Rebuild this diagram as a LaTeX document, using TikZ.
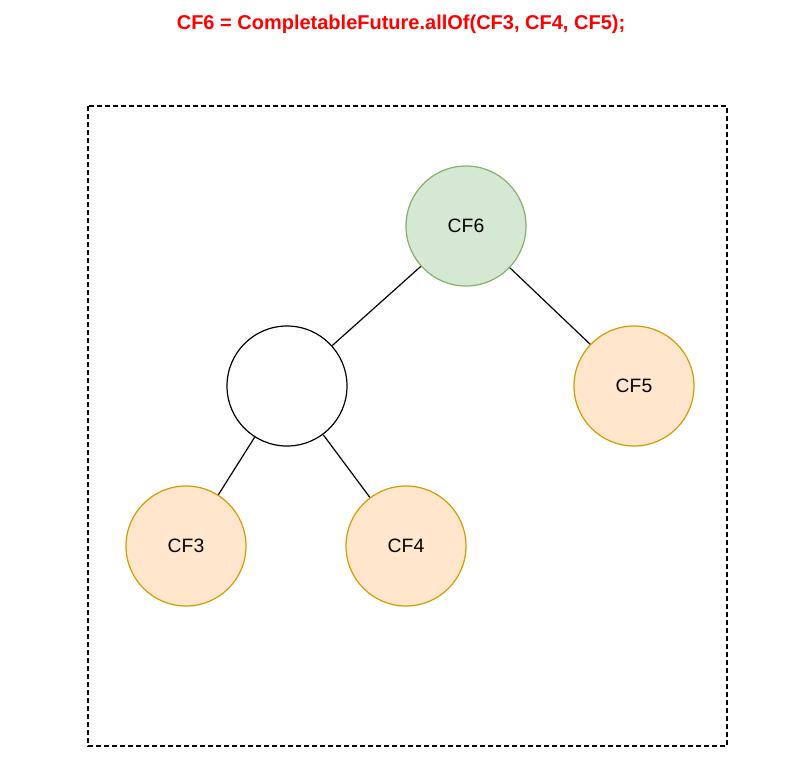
\documentclass[tikz,border=0pt]{standalone}
\usepackage{fontspec}
\setmainfont{Liberation Sans}
\begin{document}
\begin{tikzpicture}[x=0.75pt,y=-0.75pt,
  c/.style={circle,minimum size=90pt,inner sep=0pt,line width=0.9pt,font=\fontsize{14.5}{17}\selectfont},
  grn/.style={c,fill={rgb,255:red,213;green,232;blue,212},draw={rgb,255:red,130;green,179;blue,102}},
  org/.style={c,fill={rgb,255:red,255;green,230;blue,204},draw={rgb,255:red,215;green,155;blue,0}},
  wht/.style={c,fill=white,draw=black},
  e/.style={line width=0.9pt}]
\useasboundingbox (0,0) rectangle (802,764);
\node[font=\bfseries\fontsize{15}{18}\selectfont,text=red] (t) at (401,24) {CF6 = CompletableFuture.allOf(CF3, CF4, CF5);};
\draw[dash pattern=on 3.5pt off 2.5pt,line width=0.9pt] (88,106) rectangle (727,746);
\node[grn] (cf6) at (466,226) {CF6};
\node[wht] (m) at (287,386) {};
\node[org] (cf5) at (634,386) {CF5};
\node[org] (cf3) at (186,546) {CF3};
\node[org] (cf4) at (406,546) {CF4};
\draw[e] (cf6) -- (m);
\draw[e] (cf6) -- (cf5);
\draw[e] (m) -- (cf3);
\draw[e] (m) -- (cf4);
\end{tikzpicture}
\end{document}
